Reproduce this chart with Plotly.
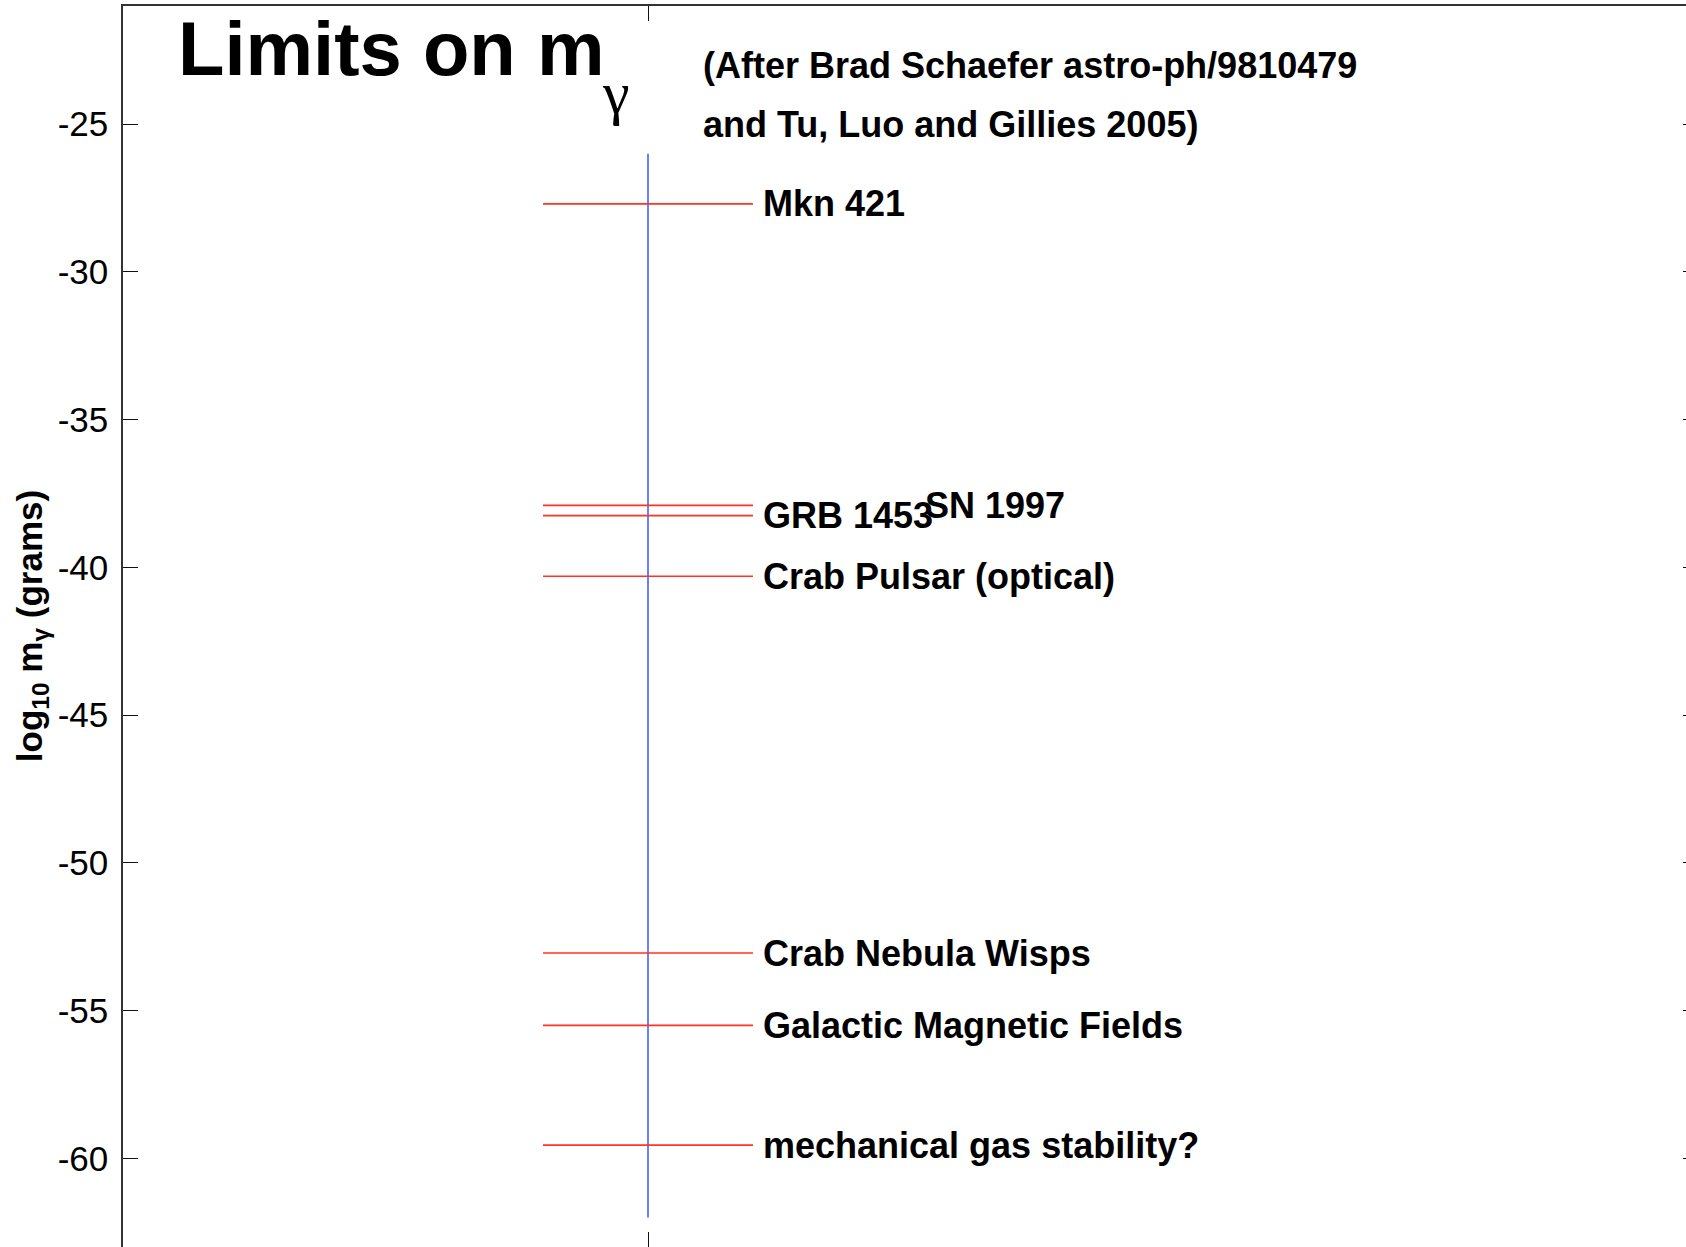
import plotly.graph_objects as go

# ---- data ----
limit_labels = ["Mkn 421", "SN 1997", "GRB 1453", "Crab Pulsar (optical)",
                "Crab Nebula Wisps", "Galactic Magnetic Fields", "mechanical gas stability?"]
limit_values = [-27.7, -37.9, -38.25, -40.3, -53.05, -55.5, -59.55]
y_tick_values = [-60, -55, -50, -45, -40, -35, -30, -25]
y_tick_labels = ["-60", "-55", "-50", "-45", "-40", "-35", "-30", "-25"]
center_x = 1.0
bar_span = [-26, -62]

# ---- styling / placement ----
line_half = 0.2
label_x = {"SN 1997": 1.524}
default_label_x = 1.215
FONT = "Liberation Sans, Arial, sans-serif"
LABEL_SIZE = 36

fig = go.Figure()

# blue vertical line
fig.add_trace(go.Scatter(x=[center_x, center_x], y=bar_span, mode="lines",
                         line=dict(color="#1a3cff", width=1.3), hoverinfo="skip",
                         showlegend=False))

# red horizontal limit lines
xs, ys = [], []
for v in limit_values:
    xs += [center_x - line_half, center_x + line_half, None]
    ys += [v, v, None]
fig.add_trace(go.Scatter(x=xs, y=ys, mode="lines",
                         line=dict(color="#ff3320", width=1.7), hoverinfo="skip",
                         showlegend=False))

annotations = []
for lab, v in zip(limit_labels, limit_values):
    annotations.append(dict(x=label_x.get(lab, default_label_x), y=v, xref="x", yref="y",
                            text="<b>" + lab + "</b>", showarrow=False,
                            xanchor="left", yanchor="middle",
                            font=dict(family=FONT, size=LABEL_SIZE, color="black")))
# title
annotations.append(dict(x=0.1, y=-22.45, xref="x", yref="y", text="<b>Limits on m</b>",
                        showarrow=False, xanchor="left", yanchor="middle",
                        font=dict(family=FONT, size=76, color="black")))
annotations.append(dict(x=0.908, y=-23.95, xref="x", yref="y", text="γ",
                        showarrow=False, xanchor="left", yanchor="middle",
                        font=dict(family="Liberation Serif, serif", size=60, color="black")))
annotations.append(dict(x=1.1, y=-23.0, xref="x", yref="y",
                        text="<b>(After Brad Schaefer astro-ph/9810479</b>",
                        showarrow=False, xanchor="left", yanchor="middle",
                        font=dict(family=FONT, size=LABEL_SIZE, color="black")))
annotations.append(dict(x=1.1, y=-25.0, xref="x", yref="y",
                        text="<b>and Tu, Luo and Gillies 2005)</b>",
                        showarrow=False, xanchor="left", yanchor="middle",
                        font=dict(family=FONT, size=LABEL_SIZE, color="black")))
# y-axis label
annotations.append(dict(x=-0.058, y=0.5, xref="paper", yref="paper",
                        text="<b>log<sub>10</sub> m<sub>γ</sub> (grams)</b>",
                        showarrow=False, textangle=-90, xanchor="center", yanchor="middle",
                        font=dict(family=FONT, size=35, color="black")))

fig.update_layout(
    width=1700, height=1247,
    margin=dict(l=123, r=0, t=6, b=0, pad=0),
    plot_bgcolor="white", paper_bgcolor="white",
    showlegend=False,
    annotations=annotations,
    xaxis=dict(range=[0, 3], tickvals=[center_x], ticktext=[""],
               showticklabels=False, ticks="inside", ticklen=15, tickwidth=1.3,
               tickcolor="#111", showline=True, linecolor="#333", linewidth=1.5,
               mirror="ticks", showgrid=False, zeroline=False),
    yaxis=dict(range=[-63, -21], tickvals=y_tick_values, ticktext=y_tick_labels,
               ticks="inside", ticklen=15, tickwidth=1.3, tickcolor="#111",
               showline=True, linecolor="#333", linewidth=1.5, mirror="ticks",
               showgrid=False, zeroline=False, ticklabelstandoff=6,
               tickfont=dict(family=FONT, size=35, color="black")),
)

fig.write_html("out.html", config={"displayModeBar": False},
               post_script="document.body.style.margin='0';document.body.style.overflow='hidden';")
